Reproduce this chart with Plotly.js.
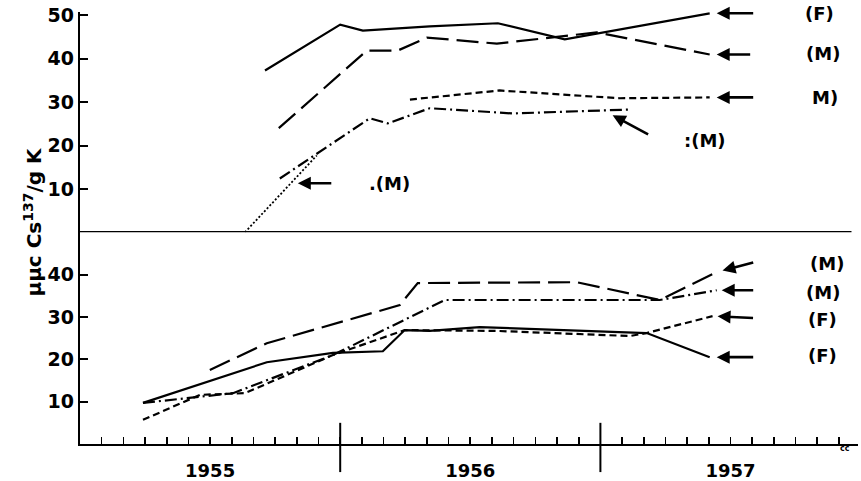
<!DOCTYPE html>
<html>
<head>
<meta charset="utf-8">
<script src="https://cdn.plot.ly/plotly-3.0.1.min.js"></script>
<style>
  html, body { margin: 0; padding: 0; background: #fff; }
  #chart { width: 861px; height: 481px; }
</style>
</head>
<body>
<div id="chart"></div>
<script>
// upper panel
var upYearF = [1955.711, 1956.0, 1956.087, 1956.344, 1956.606, 1956.863, 1957.420];
var upValF = [37.3, 47.9, 46.5, 47.5, 48.2, 44.5, 50.5];
var upYearM1 = [1955.764, 1956.102, 1956.221, 1956.333, 1956.602, 1956.986, 1957.420];
var upValM1 = [24.0, 41.9, 41.9, 44.9, 43.5, 46.1, 41.0];
var upYearM2 = [1956.268, 1956.613, 1957.074, 1957.420];
var upValM2 = [30.6, 32.7, 30.9, 31.1];
var upYearM3 = [1955.768, 1956.114, 1956.183, 1956.344, 1956.663, 1957.113];
var upValM3 = [12.4, 26.3, 25.1, 28.6, 27.4, 28.3];
var upYearM4 = [1955.634, 1955.910];
var upValM4 = [0, 17.7];

// lower panel
var lowYearM1 = [1955.499, 1955.718, 1956.229, 1956.298, 1956.909, 1957.228, 1957.447];
var lowValM1 = [17.5, 23.8, 32.8, 38.0, 38.2, 34.0, 40.6];
var lowYearM2 = [1955.242, 1955.588, 1955.972, 1956.344, 1956.402, 1957.228, 1957.447];
var lowValM2 = [9.7, 12.0, 21.0, 32.3, 34.0, 34.0, 36.3];
var lowYearF1 = [1955.242, 1955.461, 1955.634, 1955.972, 1956.248, 1956.602, 1957.113, 1957.178, 1957.431];
var lowValF1 = [5.7, 11.6, 12.0, 21.0, 26.9, 26.7, 25.5, 26.2, 30.2];
var lowYearF2 = [1955.242, 1955.718, 1955.972, 1956.164, 1956.248, 1956.344, 1956.536, 1957.178, 1957.420];
var lowValF2 = [9.7, 19.3, 21.5, 21.9, 26.9, 26.7, 27.6, 26.2, 20.5];

var years = [1955, 1956, 1957];
var yTicks = [10, 20, 30, 40];
var yTicksTop = [10, 20, 30, 40, 50];

var FONT = 'DejaVu Sans';
var LONG = '22px,8px';
var SHORT = '7px,4px';
var DASHDOT = '12px,4px,2px,4px';
var DOTS = '2px,2px';

function line(x, y, yaxis, dash, w) {
  return {
    x: x, y: y, yaxis: yaxis, type: 'scatter', mode: 'lines',
    line: {color: '#000', width: w || 2.2, dash: dash},
    hoverinfo: 'skip'
  };
}

var data = [
  line(upYearF, upValF, 'y2', 'solid'),
  line(upYearM1, upValM1, 'y2', LONG),
  line(upYearM2, upValM2, 'y2', SHORT),
  line(upYearM3, upValM3, 'y2', DASHDOT),
  line(upYearM4, upValM4, 'y2', DOTS, 1.8),
  line(lowYearM1, lowValM1, 'y', LONG),
  line(lowYearM2, lowValM2, 'y', DASHDOT),
  line(lowYearF1, lowValF1, 'y', SHORT),
  line(lowYearF2, lowValF2, 'y', 'solid')
];

// month ticks, year name under the middle of each year
var tickVals = [], tickText = [];
for (var k = 1; k < 36; k++) {
  tickVals.push(1955 + k / 12);
  tickText.push(k % 12 === 6 ? String(1955 + Math.floor(k / 12)) : '');
}

function last(a) { return a[a.length - 1]; }

// arrow pointing at the end of a series
function endArrow(xs, ys, yref, ax, ay, stand) {
  return {
    x: last(xs), y: last(ys), xref: 'x', yref: yref, text: '',
    showarrow: true, arrowhead: 2, arrowsize: 1, arrowwidth: 2.6,
    arrowcolor: '#000', ax: ax, ay: ay, standoff: stand
  };
}
function freeArrow(x, y, yref, ax, ay) {
  return {
    x: x, y: y, xref: 'x', yref: yref, text: '',
    showarrow: true, arrowhead: 2, arrowsize: 1, arrowwidth: 2.6,
    arrowcolor: '#000', ax: ax, ay: ay
  };
}
function label(txt, x, y, yref) {
  return {
    x: x, y: y, xref: 'x', yref: yref, text: txt, showarrow: false,
    font: {family: FONT, size: 18, color: '#000', weight: 'bold'}
  };
}

var annotations = [
  endArrow(upYearF, upValF, 'y2', 45, 0, 7),
  endArrow(upYearM1, upValM1, 'y2', 42, 0, 7),
  endArrow(upYearM2, upValM2, 'y2', 45, 0, 7),
  freeArrow(1957.047, 27.0, 'y2', 37, 20),
  freeArrow(1955.837, 11.3, 'y2', 35, 0),
  label('(F)', 1957.842, 50.4, 'y2'),
  label('(M)', 1957.854, 41.2, 'y2'),
  label('M)', 1957.862, 31.1, 'y2'),
  label(':(M)', 1957.401, 21.2, 'y2'),
  label('.(M)', 1956.19, 11.3, 'y2'),

  endArrow(lowYearM1, lowValM1, 'y', 38, -10, 6),
  endArrow(lowYearM2, lowValM2, 'y', 38, 0, 5),
  endArrow(lowYearF1, lowValF1, 'y', 42, 2, 5),
  endArrow(lowYearF2, lowValF2, 'y', 45, 0, 7),
  label('(M)', 1957.869, 42.7, 'y'),
  label('(M)', 1957.854, 35.8, 'y'),
  label('(F)', 1957.854, 29.5, 'y'),
  label('(F)', 1957.854, 21.0, 'y'),

  {
    x: -0.06, y: 0.5156, xref: 'paper', yref: 'paper', showarrow: false,
    xanchor: 'center', yanchor: 'middle',
    text: 'μμc Cs<sup>137</sup>/g K', textangle: -90,
    font: {family: FONT, size: 20, color: '#000', weight: 'bold'}
  },
  {
    x: 1957.94, y: -0.025, xref: 'x', yref: 'paper', showarrow: false,
    text: 'cc', font: {family: FONT, size: 8, color: '#000', weight: 'bold'}
  }
];

var shapes = [
  {type: 'line', xref: 'x', yref: 'y2', x0: 1955, x1: 1957.965, y0: 0, y1: 0,
   line: {color: '#000', width: 2.6}}
];
years.slice(1).forEach(function (yr) {
  shapes.push({type: 'line', xref: 'x', yref: 'paper', x0: yr, x1: yr, y0: -0.065, y1: 0.049,
    line: {color: '#000', width: 2}});
});

var yCommon = {
  showgrid: false, zeroline: false,
  showline: true, linecolor: '#000', linewidth: 2.2,
  ticks: 'inside', ticklen: 8, tickwidth: 2, tickcolor: '#000',
  tickmode: 'array', ticklabelstandoff: 0,
  tickfont: {family: FONT, size: 19, color: '#000', weight: 'bold'},
  anchor: 'x', fixedrange: true
};

var layout = {
  width: 861, height: 481,
  margin: {l: 80, r: 3, t: 11.5, b: 37},
  paper_bgcolor: '#fff', plot_bgcolor: '#fff',
  showlegend: false,
  xaxis: {
    range: [1955, 1957.99], showgrid: false, zeroline: false,
    showline: true, linecolor: '#000', linewidth: 2.2,
    ticks: 'inside', ticklen: 7, tickwidth: 1.6, tickcolor: '#000',
    tickmode: 'array', tickvals: tickVals, ticktext: tickText,
    ticklabelstandoff: 9,
    tickfont: {family: FONT, size: 18, color: '#000', weight: 'bold'},
    anchor: 'y', fixedrange: true
  },
  yaxis: Object.assign({}, yCommon, {domain: [0, 0.4902], range: [0, 50], tickvals: yTicks}),
  yaxis2: Object.assign({}, yCommon, {domain: [0.4902, 1], range: [0, 50.8], tickvals: yTicksTop}),
  annotations: annotations,
  shapes: shapes
};

Plotly.newPlot('chart', data, layout, {staticPlot: true});
</script>
</body>
</html>
